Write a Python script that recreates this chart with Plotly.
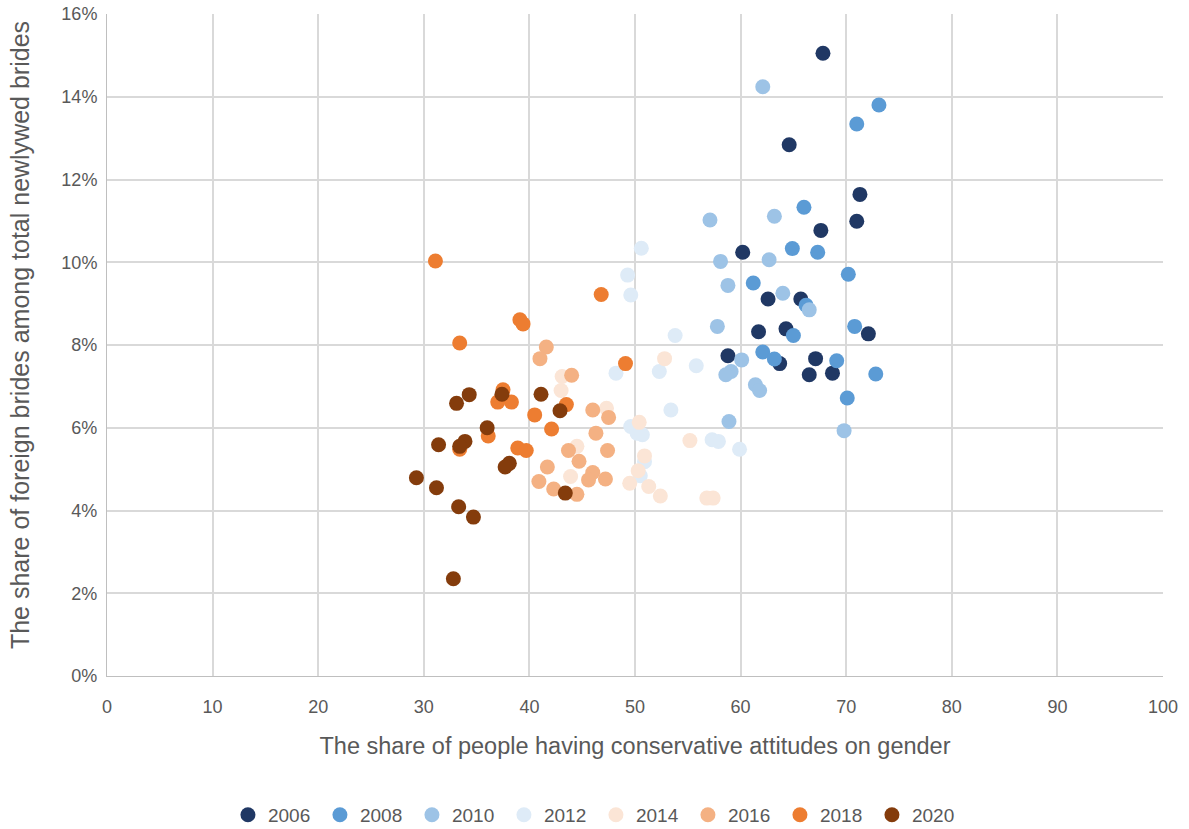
"""Scatter: conservative gender attitudes vs share of foreign brides, by year."""

import plotly.graph_objects as go

YEARS = ["2006", "2008", "2010", "2012", "2014", "2016", "2018", "2020"]

YEAR_COLORS = {
    "2006": "#203864",
    "2008": "#5B9BD5",
    "2010": "#9DC3E6",
    "2012": "#DEEBF7",
    "2014": "#FBE5D6",
    "2016": "#F4B183",
    "2018": "#ED7D31",
    "2020": "#843C0C",
}

# share of people with conservative attitudes (x), share of foreign brides (y, %)
x_2006 = [67.8, 64.6, 71.3, 71.0, 67.6, 60.2, 62.6, 65.7, 61.7, 64.3, 72.1, 58.8, 63.7, 67.1, 66.5, 68.7]
y_2006 = [15.05, 12.84, 11.64, 10.99, 10.77, 10.24, 9.11, 9.11, 8.32, 8.39, 8.27, 7.74, 7.55, 7.67, 7.28, 7.32]

x_2008 = [73.1, 71.0, 66.0, 64.9, 67.3, 70.2, 61.2, 66.2, 65.0, 70.8, 62.1, 63.2, 69.1, 72.8, 70.1]
y_2008 = [13.80, 13.34, 11.33, 10.33, 10.24, 9.71, 9.50, 8.96, 8.23, 8.45, 7.83, 7.66, 7.62, 7.30, 6.72]

x_2010 = [62.1, 63.2, 57.1, 58.1, 62.7, 58.8, 64.0, 66.5, 57.8, 60.1, 59.1, 58.6, 61.4, 61.8, 58.9, 69.8]
y_2010 = [14.24, 11.11, 11.02, 10.02, 10.06, 9.44, 9.25, 8.85, 8.45, 7.64, 7.36, 7.28, 7.04, 6.90, 6.15, 5.93]

x_2012 = [49.3, 49.6, 50.6, 53.8, 48.2, 52.3, 55.8, 53.4, 49.6, 50.2, 50.7, 57.3, 57.9, 59.9, 50.5, 50.9]
y_2012 = [9.69, 9.21, 10.34, 8.23, 7.32, 7.36, 7.50, 6.43, 6.03, 5.87, 5.83, 5.71, 5.67, 5.48, 4.84, 5.18]

x_2014 = [52.8, 43.1, 43.0, 47.3, 50.4, 55.2, 44.5, 50.9, 50.3, 43.9, 49.5, 51.3, 52.4, 56.8, 57.4]
y_2014 = [7.67, 7.24, 6.90, 6.47, 6.13, 5.69, 5.55, 5.32, 4.96, 4.82, 4.66, 4.58, 4.35, 4.30, 4.30]

x_2016 = [41.6, 41.0, 44.0, 46.0, 47.5, 46.3, 43.7, 47.4, 41.7, 44.7, 46.0, 45.6, 47.2, 40.9, 42.3, 44.5]
y_2016 = [7.95, 7.67, 7.27, 6.43, 6.25, 5.87, 5.45, 5.45, 5.05, 5.19, 4.92, 4.74, 4.76, 4.70, 4.52, 4.39]

x_2018 = [31.1, 46.8, 39.1, 39.4, 33.4, 49.1, 37.5, 37.0, 38.3, 40.5, 43.5, 42.1, 36.1, 33.4, 38.9, 39.7]
y_2018 = [10.03, 9.22, 8.61, 8.51, 8.05, 7.55, 6.92, 6.62, 6.62, 6.31, 6.56, 5.97, 5.80, 5.48, 5.51, 5.45]

x_2020 = [34.3, 33.1, 37.4, 41.1, 42.9, 36.0, 31.4, 33.9, 33.4, 38.1, 37.7, 29.3, 31.2, 43.4, 33.3, 34.7, 32.8]
y_2020 = [6.80, 6.59, 6.81, 6.81, 6.41, 6.00, 5.59, 5.67, 5.55, 5.14, 5.05, 4.79, 4.55, 4.42, 4.09, 3.84, 2.35]

SERIES = {
    "2006": (x_2006, y_2006),
    "2008": (x_2008, y_2008),
    "2010": (x_2010, y_2010),
    "2012": (x_2012, y_2012),
    "2014": (x_2014, y_2014),
    "2016": (x_2016, y_2016),
    "2018": (x_2018, y_2018),
    "2020": (x_2020, y_2020),
}

FONT = "Liberation Sans"
GRID = "#D9D9D9"
TEXT = "#595959"

fig = go.Figure()
for year in YEARS:
    xs, ys = SERIES[year]
    fig.add_trace(
        go.Scatter(
            x=xs,
            y=[v / 100 for v in ys],
            mode="markers",
            name=year,
            marker={"color": YEAR_COLORS[year], "size": 15, "line": {"width": 0}},
        )
    )

fig.update_layout(
    width=1189,
    height=829,
    paper_bgcolor="white",
    plot_bgcolor="white",
    margin={"l": 107, "r": 26, "t": 14, "b": 153},
    font={"family": FONT, "color": TEXT, "size": 18},
    showlegend=True,
    # legend placed in container coords so it doesn't push the bottom margin
    legend={
        "orientation": "h",
        "x": 0.463,
        "xanchor": "center",
        "y": 0.017,
        "yref": "container",
        "yanchor": "middle",
        "font": {"size": 19, "color": TEXT},
        "entrywidth": 47,
        "itemwidth": 30,
    },
    # y title as an annotation so it can sit close to the left edge
    annotations=[
        {
            "text": "The share of foreign brides among total newlywed brides",
            "textangle": -90,
            "xref": "paper",
            "yref": "paper",
            "x": 0,
            "y": 0.515,
            "xanchor": "right",
            "yanchor": "middle",
            "xshift": -71,
            "showarrow": False,
            "font": {"size": 25, "color": TEXT},
        }
    ],
)
fig.update_xaxes(
    range=[0, 100],
    dtick=10,
    tick0=0,
    automargin=False,
    showgrid=True,
    gridcolor=GRID,
    gridwidth=2,
    zeroline=False,
    showline=True,
    linecolor="#BFBFBF",
    linewidth=1,
    ticks="",
    ticklabelstandoff=14,
    tickfont={"size": 18, "color": TEXT},
    title={
        "text": "The share of people having conservative attitudes on gender",
        "font": {"size": 23.5, "color": TEXT},
        "standoff": 21,
    },
)
fig.update_yaxes(
    range=[0, 0.16],
    dtick=0.02,
    tick0=0,
    tickformat=".0%",
    automargin=False,
    ticklabeloverflow="allow",
    showgrid=True,
    gridcolor=GRID,
    gridwidth=2,
    zeroline=False,
    showline=True,
    linecolor="#BFBFBF",
    linewidth=1,
    ticks="",
    ticksuffix=" ",
    tickfont={"size": 18, "color": TEXT},
)

fig.write_html(
    "out.html",
    config={"displayModeBar": False},
    post_script="document.body.style.margin = '0';",
)
